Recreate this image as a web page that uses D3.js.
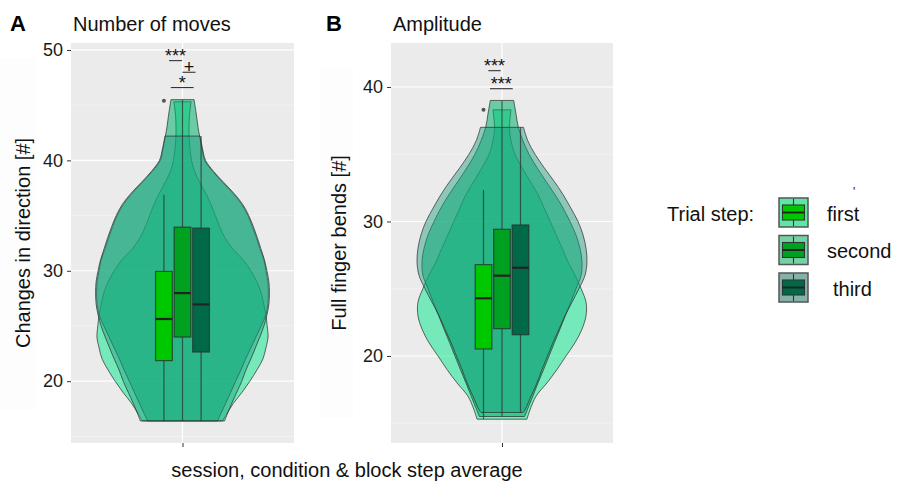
<!DOCTYPE html>
<html>
<head>
<meta charset="utf-8">
<script src="https://cdnjs.cloudflare.com/ajax/libs/d3/7.8.5/d3.min.js"></script>
<style>
  body { margin: 0; background: #fff; }
  text { font-family: "Helvetica Neue", Helvetica, Arial, "Liberation Sans", sans-serif; }
</style>
</head>
<body>
<svg id="chart" width="897" height="484"></svg>
<script>
// ---- data ----
var groups = ["first", "second", "third"];

// Panel A: number of moves
var movesTicks = [20, 30, 40, 50];
var movesMinor = [15, 25, 35, 45];
// violin outlines: levels (value) and relative density width at each level
var movesFirstLevels  = [45.3, 44, 42.2, 41, 40, 39, 38, 37, 36, 35, 34, 33, 32, 31, 30, 29, 28, 27, 26, 25, 24, 23, 22, 21, 20, 19, 18, 17, 16.4];
var movesFirstDensity = [0.10, 0.08, 0.076, 0.087, 0.105, 0.14, 0.2, 0.27, 0.33, 0.38, 0.43, 0.49, 0.58, 0.70, 0.79, 0.86, 0.91, 0.94, 0.965, 0.98, 0.99, 0.965, 0.93, 0.86, 0.78, 0.69, 0.59, 0.51, 0.465];
var movesSecondLevels  = [45.5, 44, 43, 42.2, 41, 40, 39, 38, 37, 36, 35, 34, 33, 32, 31, 30, 29, 28, 27, 26, 25, 24, 23, 22, 21, 20, 19, 18, 17, 16.4];
var movesSecondDensity = [0.134, 0.163, 0.18, 0.198, 0.227, 0.256, 0.35, 0.465, 0.585, 0.685, 0.756, 0.808, 0.855, 0.895, 0.942, 0.965, 0.988, 0.994, 0.988, 0.965, 0.91, 0.85, 0.79, 0.73, 0.675, 0.616, 0.558, 0.5, 0.44, 0.407];
var movesThirdLevels  = [42.2, 41, 40, 39, 38, 37, 36, 35, 34, 33, 32, 31, 30, 29, 28, 27, 26, 25, 24, 23, 22, 21, 20, 19, 18, 17, 16.4];
var movesThirdDensity = [0.203, 0.233, 0.267, 0.36, 0.477, 0.597, 0.698, 0.767, 0.82, 0.866, 0.907, 0.948, 0.977, 1.0, 1.006, 1.0, 0.977, 0.942, 0.895, 0.843, 0.79, 0.733, 0.686, 0.628, 0.57, 0.517, 0.488];
var movesLower  = [16.4, 16.4, 16.4];
var movesQ1     = [21.86, 24.0, 22.64];
var movesMedian = [25.63, 27.98, 26.95];
var movesQ3     = [29.94, 33.95, 33.86];
var movesUpper  = [36.88, 45.5, 42.2];
var movesOutliers = [[45.4], [], []];
var movesSigLabels = ["***", "+", "*"];
var movesSigLevel  = [49.03, 47.98, 46.59];
var movesSigFrom   = [-0.72, 0.0, -0.63];
var movesSigTo     = [-0.02, 0.7, 0.6];

// Panel B: amplitude
var ampTicks = [20, 30, 40];
var ampMinor = [15, 25, 35];
var ampFirstLevels  = [38.3, 37, 36, 35, 34, 33, 32, 31, 30, 29, 28, 27, 26, 25, 24, 23, 22, 21, 20, 19, 18, 17, 16, 15.3];
var ampFirstDensity = [0.105, 0.087, 0.105, 0.15, 0.233, 0.326, 0.42, 0.49, 0.56, 0.63, 0.70, 0.767, 0.85, 0.92, 0.977, 0.977, 0.93, 0.85, 0.744, 0.64, 0.523, 0.395, 0.326, 0.29];
var ampSecondLevels  = [39.0, 38, 37, 36, 35, 34, 33, 32, 31, 30, 29, 28, 27, 26, 25, 24, 23, 22, 21, 20, 19, 18, 17, 16, 15.5];
var ampSecondDensity = [0.136, 0.163, 0.19, 0.244, 0.314, 0.407, 0.51, 0.616, 0.71, 0.79, 0.86, 0.907, 0.93, 0.92, 0.86, 0.80, 0.736, 0.674, 0.61, 0.547, 0.484, 0.419, 0.357, 0.294, 0.262];
var ampThirdLevels  = [37.0, 36, 35, 34, 33, 32, 31, 30, 29, 28, 27, 26, 25, 24, 23, 22, 21, 20, 19, 18, 17, 16, 15.8];
var ampThirdDensity = [0.25, 0.30, 0.384, 0.49, 0.605, 0.71, 0.80, 0.884, 0.942, 0.977, 0.988, 0.965, 0.895, 0.814, 0.733, 0.663, 0.593, 0.53, 0.465, 0.407, 0.337, 0.267, 0.244];
var ampLower  = [15.3, 15.5, 15.8];
var ampQ1     = [20.52, 22.03, 21.58];
var ampMedian = [24.29, 25.97, 26.56];
var ampQ3     = [26.79, 29.42, 29.74];
var ampUpper  = [32.34, 39.0, 37.0];
var ampOutliers = [[38.3], [], []];
var ampSigLabels = ["***", "***"];
var ampSigLevel  = [41.21, 39.87];
var ampSigFrom   = [-0.74, -0.65];
var ampSigTo     = [-0.07, 0.58];

// ---- styling ----
var violinFill  = ["#00e887", "#00b06c", "#1c9e80"];
var violinAlpha = [0.5, 0.55, 0.46];
var legendFill  = ["#5ee6a4", "#76d2a6", "#84b2a8"];
var boxFill     = ["#00c800", "#00a020", "#006a48"];
var font = '"Helvetica Neue", Helvetica, Arial, "Liberation Sans", sans-serif';

var svg = d3.select("#chart");

function drawPanel(cfg) {
  var g = svg.append("g");
  var x = d3.scaleLinear().domain([0.4, 1.6]).range([cfg.left, cfg.right]);
  var y = d3.scaleLinear().domain(cfg.domain).range([cfg.bottom, cfg.top]);
  var w = d3.scaleLinear().domain([0, 1]).range([0, x(1.465) - x(1)]);
  var dodge = 0.1, boxW = 0.09;

  g.append("rect")
    .attr("x", cfg.left).attr("y", cfg.top)
    .attr("width", cfg.right - cfg.left).attr("height", cfg.bottom - cfg.top)
    .attr("fill", "#ebebeb");

  // grid lines
  g.selectAll(".minor").data(cfg.minor).enter().append("line")
    .attr("x1", cfg.left).attr("x2", cfg.right)
    .attr("y1", function(d){ return y(d); }).attr("y2", function(d){ return y(d); })
    .attr("stroke", "#f5f5f5").attr("stroke-width", 0.7);
  g.selectAll(".major").data(cfg.ticks).enter().append("line")
    .attr("x1", cfg.left).attr("x2", cfg.right)
    .attr("y1", function(d){ return y(d); }).attr("y2", function(d){ return y(d); })
    .attr("stroke", "#fff").attr("stroke-width", 1.2);
  g.append("line")
    .attr("x1", x(1)).attr("x2", x(1)).attr("y1", cfg.top).attr("y2", cfg.bottom)
    .attr("stroke", "#fff").attr("stroke-width", 1.2);

  // violins, all centred on the category
  var area = d3.area()
    .y(function(d){ return y(d.v); })
    .x0(function(d){ return x(1) - w(d.d); })
    .x1(function(d){ return x(1) + w(d.d); })
    .curve(d3.curveCatmullRom);
  cfg.violins.forEach(function(vi, i){
    var pts = vi.levels.map(function(v, k){ return {v: v, d: vi.density[k]}; });
    g.append("path").datum(pts)
      .attr("d", area)
      .attr("fill", violinFill[i]).attr("fill-opacity", violinAlpha[i])
      .attr("stroke", "#2b2b2b").attr("stroke-opacity", 0.7).attr("stroke-width", 1);
  });

  // boxplots, dodged
  groups.forEach(function(name, i){
    var c = 1 + (i - 1) * dodge;
    var cx = x(c);
    g.append("line").attr("x1", cx).attr("x2", cx)
      .attr("y1", y(cfg.upper[i])).attr("y2", y(cfg.q3[i]))
      .attr("stroke", "#2b2b2b").attr("stroke-opacity", 0.7).attr("stroke-width", 1.2);
    g.append("line").attr("x1", cx).attr("x2", cx)
      .attr("y1", y(cfg.q1[i])).attr("y2", y(cfg.lower[i]))
      .attr("stroke", "#2b2b2b").attr("stroke-opacity", 0.7).attr("stroke-width", 1.2);
    g.append("rect")
      .attr("x", x(c - boxW / 2)).attr("width", x(c + boxW / 2) - x(c - boxW / 2))
      .attr("y", y(cfg.q3[i])).attr("height", y(cfg.q1[i]) - y(cfg.q3[i]))
      .attr("fill", boxFill[i])
      .attr("stroke", "#2b2b2b").attr("stroke-opacity", 0.75).attr("stroke-width", 1.2);
    g.append("line")
      .attr("x1", x(c - boxW / 2)).attr("x2", x(c + boxW / 2))
      .attr("y1", y(cfg.median[i])).attr("y2", y(cfg.median[i]))
      .attr("stroke", "#222").attr("stroke-width", 2.2);
    g.selectAll(null).data(cfg.outliers[i]).enter().append("circle")
      .attr("cx", cx).attr("cy", function(d){ return y(d); }).attr("r", 2)
      .attr("fill", "#555");
  });

  // significance brackets
  cfg.sigLabels.forEach(function(lab, k){
    var x1 = x(1 + cfg.sigFrom[k] * dodge), x2 = x(1 + cfg.sigTo[k] * dodge);
    var yy = y(cfg.sigLevel[k]);
    g.append("line").attr("x1", x1).attr("x2", x2).attr("y1", yy).attr("y2", yy)
      .attr("stroke", "#222").attr("stroke-width", 1);
    g.append("text").attr("x", (x1 + x2) / 2).attr("y", yy + 1)
      .attr("text-anchor", "middle").attr("font-size", 18).attr("fill", "#111")
      .text(lab);
  });

  // axes
  var ya = g.append("g").attr("transform", "translate(" + cfg.left + ",0)")
    .call(d3.axisLeft(y).tickValues(cfg.ticks).tickSize(4).tickPadding(4));
  ya.select(".domain").remove();
  ya.selectAll("line").attr("stroke", "#333");
  ya.selectAll("text").attr("font-size", 18).attr("fill", "#1a1a1a").attr("font-family", font);

  var xa = g.append("g").attr("transform", "translate(0," + cfg.bottom + ")")
    .call(d3.axisBottom(x).tickValues([1]).tickFormat("").tickSize(4));
  xa.select(".domain").remove();
  xa.selectAll("line").attr("stroke", "#333");

  // titles
  g.append("text").attr("x", cfg.tagX).attr("y", 31)
    .attr("font-size", 22).attr("font-weight", "bold").attr("fill", "#000").text(cfg.tag);
  g.append("text").attr("x", cfg.left + 2).attr("y", 31)
    .attr("font-size", 20).attr("fill", "#111").text(cfg.title);
  g.append("text")
    .attr("transform", "translate(" + cfg.yTitleX + "," + ((cfg.top + cfg.bottom) / 2) + ") rotate(-90)")
    .attr("text-anchor", "middle").attr("font-size", 20).attr("fill", "#111")
    .text(cfg.yTitle);
}

// faint blocks at the left of each panel
svg.append("rect").attr("x", 0).attr("y", 58).attr("width", 36).attr("height", 352).attr("fill", "#fdfdfd");
svg.append("rect").attr("x", 320).attr("y", 68).attr("width", 33).attr("height", 350).attr("fill", "#fdfdfd");

drawPanel({
  left: 71, right: 294, top: 43, bottom: 443, domain: [14.4, 50.63],
  ticks: movesTicks, minor: movesMinor,
  violins: [
    {levels: movesFirstLevels, density: movesFirstDensity},
    {levels: movesSecondLevels, density: movesSecondDensity},
    {levels: movesThirdLevels, density: movesThirdDensity}
  ],
  lower: movesLower, q1: movesQ1, median: movesMedian, q3: movesQ3, upper: movesUpper,
  outliers: movesOutliers,
  sigLabels: movesSigLabels, sigLevel: movesSigLevel, sigFrom: movesSigFrom, sigTo: movesSigTo,
  tag: "A", tagX: 10, title: "Number of moves",
  yTitle: "Changes in direction [#]", yTitleX: 30
});

drawPanel({
  left: 391, right: 613, top: 43, bottom: 443, domain: [13.53, 43.27],
  ticks: ampTicks, minor: ampMinor,
  violins: [
    {levels: ampFirstLevels, density: ampFirstDensity},
    {levels: ampSecondLevels, density: ampSecondDensity},
    {levels: ampThirdLevels, density: ampThirdDensity}
  ],
  lower: ampLower, q1: ampQ1, median: ampMedian, q3: ampQ3, upper: ampUpper,
  outliers: ampOutliers,
  sigLabels: ampSigLabels, sigLevel: ampSigLevel, sigFrom: ampSigFrom, sigTo: ampSigTo,
  tag: "B", tagX: 326, title: "Amplitude",
  yTitle: "Full finger bends [#]", yTitleX: 346
});

// shared x title
svg.append("text").attr("x", 347).attr("y", 477)
  .attr("text-anchor", "middle").attr("font-size", 20).attr("fill", "#111")
  .text("session, condition & block step average");

// legend
var legend = svg.append("g");
legend.append("text").attr("x", 667).attr("y", 221)
  .attr("font-size", 20).attr("fill", "#111").text("Trial step:");
legend.append("text").attr("x", 853).attr("y", 196)
  .attr("font-size", 12).attr("fill", "#111").text("'");
var keys = legend.selectAll(".key").data(groups).enter().append("g")
  .attr("transform", function(d, i){ return "translate(779," + (198 + i * 37.5) + ")"; });
keys.append("rect").attr("width", 29).attr("height", 29)
  .attr("fill", function(d, i){ return legendFill[i]; })
  .attr("stroke", "#555").attr("stroke-width", 1.5);
keys.append("line").attr("x1", 14.5).attr("x2", 14.5).attr("y1", 1).attr("y2", 28)
  .attr("stroke", "#333").attr("stroke-width", 1.1);
keys.append("rect").attr("x", 3.5).attr("y", 7).attr("width", 22).attr("height", 15)
  .attr("fill", function(d, i){ return boxFill[i]; })
  .attr("stroke", "#333").attr("stroke-width", 1.1);
keys.append("line").attr("x1", 3.5).attr("x2", 25.5).attr("y1", 14.5).attr("y2", 14.5)
  .attr("stroke", "#222").attr("stroke-width", 2);
keys.append("text")
  .attr("x", function(d, i){ return i === 2 ? 833 - 779 : 827 - 779; })
  .attr("y", 22.5)
  .attr("font-size", 20).attr("fill", "#111")
  .text(function(d){ return d; });
</script>
</body>
</html>
